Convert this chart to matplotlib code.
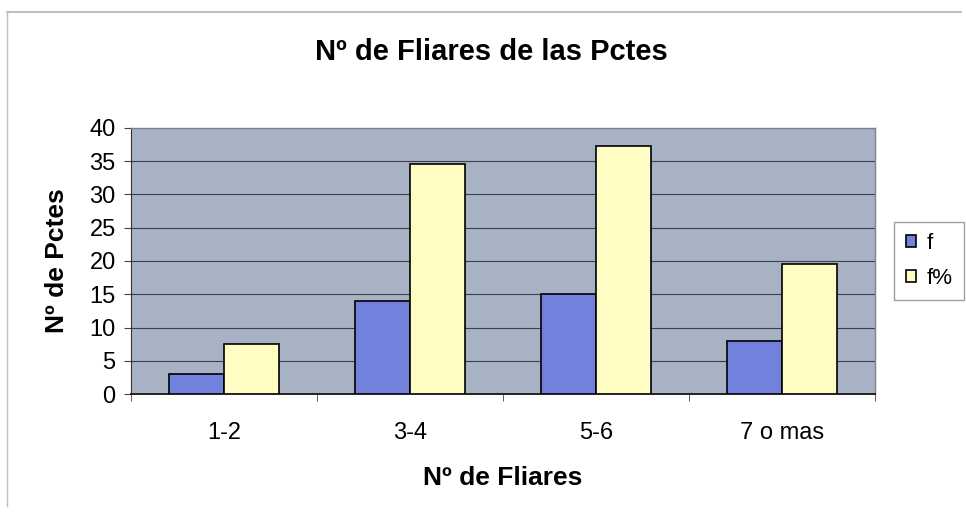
import matplotlib
matplotlib.use("Agg")
import matplotlib.pyplot as plt
from matplotlib.lines import Line2D
import numpy as np

categories = ["1-2", "3-4", "5-6", "7 o mas"]
f_vals = [3, 14, 15, 8]
fpct_vals = [7.5, 34.6, 37.3, 19.5]
series_names = ["f", "f%"]
yticks = [0, 5, 10, 15, 20, 25, 30, 35, 40]

plt.rcParams['font.family'] = ['Liberation Sans', 'DejaVu Sans']

fig = plt.figure(figsize=(9.66, 5.16), dpi=100)
fig.patch.set_facecolor("white")
ax = fig.add_axes([0.1356, 0.2364, 0.906 - 0.1356, 0.752 - 0.2364])
ax.set_facecolor("#a7b2c4")

x = np.arange(len(categories))
w = 0.295
ax.bar(x - w / 2, f_vals, width=w, color="#7282dc", edgecolor="black", linewidth=1.2, label=series_names[0], zorder=3)
ax.bar(x + w / 2, fpct_vals, width=w, color="#fffcc4", edgecolor="black", linewidth=1.2, label=series_names[1], zorder=3)

ax.set_xlim(-0.5, len(categories) - 0.5)
ax.set_ylim(0, 40)
ax.set_yticks(yticks)
ax.set_yticklabels([str(v) for v in yticks], fontsize=17)
ax.yaxis.grid(True, color="#3a3f48", linewidth=0.8, zorder=1)
ax.set_axisbelow(True)

ax.set_xticks(x)
ax.set_xticklabels(categories, fontsize=17)
ax.tick_params(axis='x', length=0, pad=20)
ax.set_xticks(np.arange(-0.5, len(categories), 1.0), minor=True)
ax.tick_params(axis='x', which='minor', length=5, color="#444444")
ax.tick_params(axis='y', length=5, color="#444444", pad=6)

for s in ["top", "right"]:
    ax.spines[s].set_color("#7a8290")
    ax.spines[s].set_linewidth(1.0)
ax.spines["left"].set_color("#333333")
ax.spines["bottom"].set_color("#222222")
ax.spines["bottom"].set_linewidth(1.4)

ax.set_xlabel("Nº de Fliares", fontsize=19, fontweight="bold", labelpad=16)
ax.set_ylabel("Nº de Pctes", fontsize=19, fontweight="bold", labelpad=15)

fig.text(0.509, 0.9, "Nº de Fliares de las Pctes", fontsize=21, fontweight="bold",
         ha="center", va="center")

leg = ax.legend(loc="center left", bbox_to_anchor=(1.008, 0.5), fontsize=16,
                frameon=True, fancybox=False, edgecolor="#888888",
                handlelength=0.45, handleheight=0.45, handletextpad=0.5,
                borderpad=0.5, labelspacing=0.6, borderaxespad=0.6)
leg.get_frame().set_linewidth(1.0)

fig.add_artist(Line2D([0.007, 0.995], [0.977, 0.977], transform=fig.transFigure,
                      color="#b0b0b0", linewidth=1.2))
fig.add_artist(Line2D([0.007, 0.007], [0.02, 0.977], transform=fig.transFigure,
                      color="#c0c0c0", linewidth=1.0))

fig.savefig("out.png", dpi=100)
